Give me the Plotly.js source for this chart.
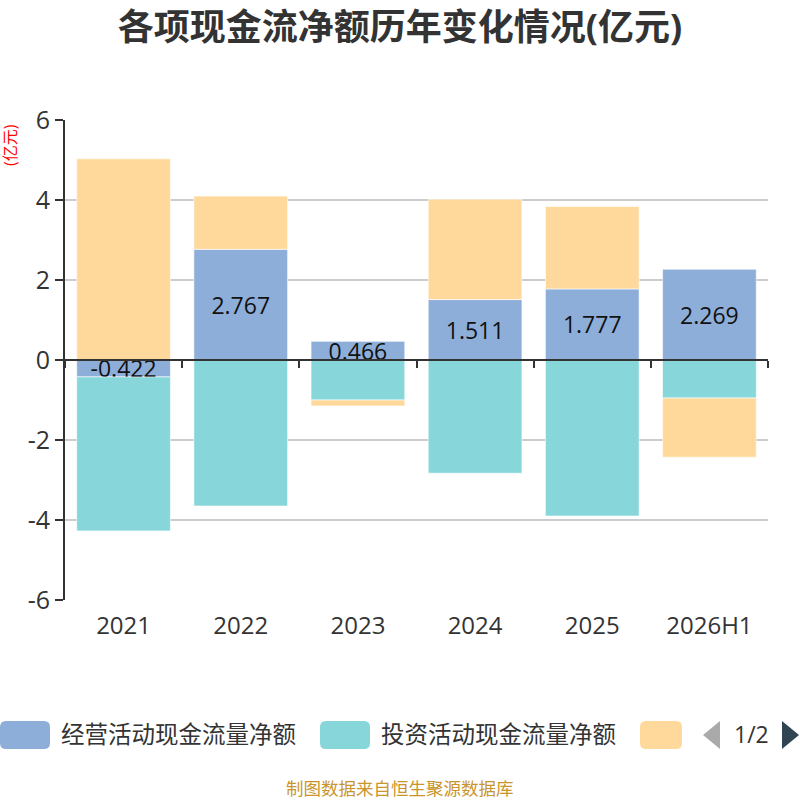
<!DOCTYPE html>
<html>
<head>
<meta charset="utf-8">
<script src="https://cdn.plot.ly/plotly-3.0.1.min.js"></script>
<style>
  body { margin: 0; background: #fff; }
  #chart { width: 800px; height: 800px; }
</style>
</head>
<body>
<div id="chart"></div>
<script>
// data (亿元)
var years = ["2021", "2022", "2023", "2024", "2025", "2026H1"];
var operating = [-0.422, 2.767, 0.466, 1.511, 1.777, 2.269];
var investing = [-3.85, -3.65, -1.0, -2.83, -3.9, -0.95];
var financing = [5.03, 1.33, -0.15, 2.51, 2.06, -1.48];
var seriesNames = ["经营活动现金流量净额", "投资活动现金流量净额", "筹资活动现金流量净额"];
var yTicks = [-6, -4, -2, 0, 2, 4, 6];
var yTickText = ["-6", "-4", "-2", "0", "2", "4", "6"];
var colors = ["#8eaeda", "#87d6d9", "#fed99b"];

var font = "'Open Sans', 'Noto Sans CJK SC', sans-serif";

// plot area in pixels: x 65..768, y 120..600
function px(x) { return (x - 65) / 703; }
function py(y) { return (600 - y) / 480; }

function roundRect(x0, y0, x1, y1, r) {
    var a = px(x0), b = px(x1), c = py(y0), d = py(y1);
    var rx = r / 703, ry = r / 480;
    return "M" + (a + rx) + "," + c + " L" + (b - rx) + "," + c +
        " Q" + b + "," + c + " " + b + "," + (c - ry) +
        " L" + b + "," + (d + ry) + " Q" + b + "," + d + " " + (b - rx) + "," + d +
        " L" + (a + rx) + "," + d + " Q" + a + "," + d + " " + a + "," + (d + ry) +
        " L" + a + "," + (c - ry) + " Q" + a + "," + c + " " + (a + rx) + "," + c + " Z";
}

var barLine = {color: "rgba(255,255,255,0.6)", width: 1};

var traces = [
    {
        type: "bar", name: seriesNames[0], x: years, y: operating,
        marker: {color: colors[0], line: barLine},
        text: operating.map(function (v) { return v.toFixed(3); }),
        textposition: "inside", insidetextanchor: "middle", constraintext: "none",
        textfont: {size: 23, color: "#111", family: font},
        showlegend: false
    },
    {
        type: "bar", name: seriesNames[1], x: years, y: investing,
        marker: {color: colors[1], line: barLine},
        showlegend: false
    },
    {
        type: "bar", name: seriesNames[2], x: years, y: financing,
        marker: {color: colors[2], line: barLine},
        showlegend: false
    },
    // empty trace so the zero-line category axis (x2) gets drawn
    {
        type: "scatter", mode: "lines", x: years, y: years.map(function () { return null; }),
        xaxis: "x2", yaxis: "y", showlegend: false, hoverinfo: "skip"
    }
];

var shapes = [
    {type: "path", xref: "paper", yref: "paper", path: roundRect(0, 721, 50, 749, 6), fillcolor: colors[0], line: {width: 0}},
    {type: "path", xref: "paper", yref: "paper", path: roundRect(320, 721, 370, 749, 6), fillcolor: colors[1], line: {width: 0}},
    {type: "path", xref: "paper", yref: "paper", path: roundRect(640, 721, 682, 749, 6), fillcolor: colors[2], line: {width: 0}},
    {type: "path", xref: "paper", yref: "paper",
        path: "M" + px(720) + "," + py(721) + " L" + px(703) + "," + py(735) + " L" + px(720) + "," + py(749) + " Z",
        fillcolor: "#aaaaaa", line: {width: 0}},
    {type: "path", xref: "paper", yref: "paper",
        path: "M" + px(782) + "," + py(721) + " L" + px(799) + "," + py(735) + " L" + px(782) + "," + py(749) + " Z",
        fillcolor: "#2f4554", line: {width: 0}}
];

var annotations = [
    {xref: "paper", yref: "paper", x: px(59), y: py(734), xanchor: "left", yanchor: "middle",
        text: seriesNames[0], showarrow: false, font: {size: 23.5, color: "#333", family: font}},
    {xref: "paper", yref: "paper", x: px(379), y: py(734), xanchor: "left", yanchor: "middle",
        text: seriesNames[1], showarrow: false, font: {size: 23.5, color: "#333", family: font}},
    {xref: "paper", yref: "paper", x: px(751), y: py(734), xanchor: "center", yanchor: "middle",
        text: "1/2", showarrow: false, font: {size: 23, color: "#333", family: font}},
    {xref: "paper", yref: "paper", x: px(10), y: py(145), xanchor: "center", yanchor: "middle",
        text: "(亿元)", textangle: -90, showarrow: false, font: {size: 16, color: "#ff0000", family: font}},
    {xref: "paper", yref: "paper", x: px(400), y: py(788), xanchor: "center", yanchor: "middle",
        text: "制图数据来自恒生聚源数据库", showarrow: false, font: {size: 17.5, color: "#c9952c", family: font}}
];

var layout = {
    width: 800,
    height: 800,
    margin: {l: 65, r: 32, t: 120, b: 200},
    paper_bgcolor: "#fff",
    plot_bgcolor: "#fff",
    barmode: "relative",
    bargap: 0.2,
    title: {
        text: "<b>各项现金流净额历年变化情况(亿元)</b>",
        x: 0.5, xref: "container", xanchor: "center",
        y: 1 - 27 / 800, yref: "container", yanchor: "middle",
        font: {size: 36, color: "#333", family: font}
    },
    font: {family: font, color: "#333"},
    xaxis: {
        type: "category",
        categoryorder: "array",
        categoryarray: years,
        range: [-0.5, 5.5],
        showline: false,
        showgrid: false,
        zeroline: false,
        ticks: "",
        ticklabelstandoff: 9,
        tickfont: {size: 24, color: "#333", family: font}
    },
    xaxis2: {
        type: "category",
        overlaying: "x",
        anchor: "free",
        position: 0.5,
        categoryorder: "array",
        categoryarray: years,
        range: [-0.5, 5.5],
        tickson: "boundaries",
        ticks: "outside",
        ticklen: 7,
        tickwidth: 2,
        tickcolor: "#333",
        showticklabels: false,
        showline: true,
        linecolor: "#333",
        linewidth: 2,
        showgrid: false,
        zeroline: false
    },
    yaxis: {
        range: [-6, 6],
        tickmode: "array",
        tickvals: yTicks,
        ticktext: yTickText,
        showline: true,
        linecolor: "#333",
        linewidth: 2,
        ticks: "outside",
        ticklen: 8,
        tickwidth: 2,
        tickcolor: "#333",
        gridcolor: "#cccccc",
        gridwidth: 2,
        zeroline: false,
        tickfont: {size: 25, color: "#333", family: font}
    },
    shapes: shapes,
    annotations: annotations
};

Plotly.newPlot("chart", traces, layout, {displayModeBar: false, staticPlot: true});
</script>
</body>
</html>
